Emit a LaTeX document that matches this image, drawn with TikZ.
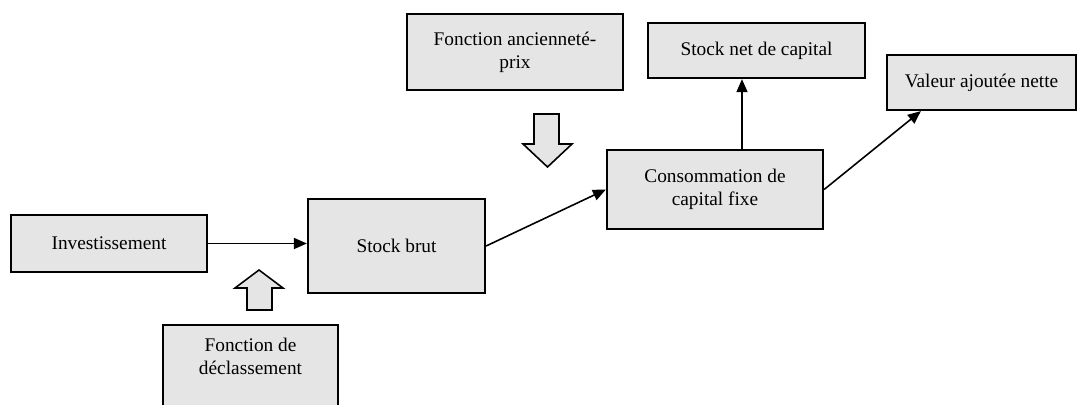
\documentclass[tikz,border=0pt]{standalone}
\usepackage{fontspec}
\setmainfont{Liberation Serif}
\usetikzlibrary{arrows.meta}

\begin{document}
\begin{tikzpicture}[x=0.02cm,y=-0.02cm,
  bloc/.style={draw,fill=black!10,line width=1.3pt,align=center,inner sep=2pt,font=\fontsize{11}{13}\selectfont},
  fleche/.style={line width=0.9pt,-{Triangle[length=2.6mm,width=2.2mm]}},
  creux/.style={draw,fill=black!10,line width=0.9pt}]
\clip (0,0) rectangle (1078,405);
\node[bloc,minimum width=3.92cm,minimum height=1.14cm] (inv) at (109,243.5) {Investissement};
\node[bloc,minimum width=3.54cm,minimum height=1.88cm] (brut) at (396.5,246) {Stock brut};
\node[bloc,minimum width=4.32cm,minimum height=1.52cm] (anc) at (515,52) {Fonction ancienneté-\\prix};
\node[bloc,minimum width=4.32cm,minimum height=1.58cm] (conso) at (715,189.5) {Consommation de\\capital fixe};
\node[bloc,minimum width=4.34cm,minimum height=1.10cm] (snet) at (756.5,50.5) {Stock net de capital};
\node[bloc,minimum width=3.78cm,minimum height=1.10cm] (vaj) at (981.5,82.5) {Valeur ajoutée nette};
\node[bloc,anchor=north,minimum width=3.5cm,inner ysep=0pt,text height=28pt,text depth=2cm] (decl) at (250.5,324) {Fonction de\\déclassement};
% fleches creuses
\draw[creux] (534,114) -- (559,114) -- (559,144) -- (572,144) -- (547.5,167) -- (523,144) -- (534,144) -- cycle;
\draw[creux] (247,310) -- (272,310) -- (272,288) -- (283,288) -- (259,270) -- (235,288) -- (247,288) -- cycle;
% liaisons
\draw[fleche] (inv.east) -- (inv.east -| brut.west);
\draw[fleche] (brut.east) -- (conso.west);
\draw[fleche] ([xshift=0.54cm]conso.north) -- ([xshift=0.54cm]conso.north |- snet.south);
\draw[fleche] (conso.east) -- ([xshift=0.7cm]vaj.south west);
\end{tikzpicture}
\end{document}
